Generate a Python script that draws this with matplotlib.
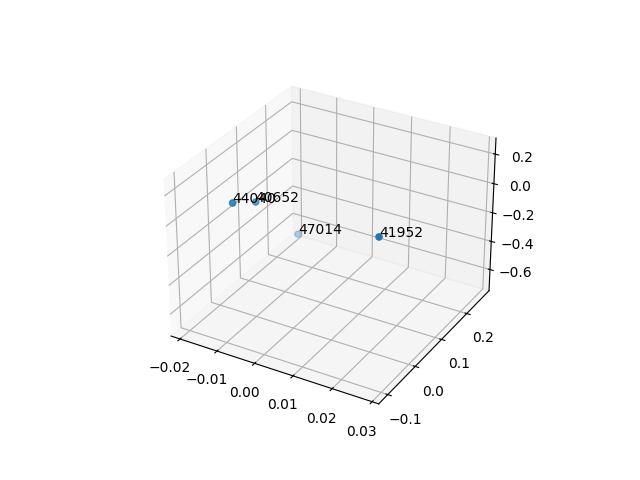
import matplotlib
matplotlib.use("Agg")
import matplotlib.pyplot as plt

labels = ["44040", "40652", "47014", "41952"]
xs = [-0.0069, -0.0095, -0.0190, 0.0282]
ys = [-0.105, 0.000, 0.265, -0.089]
zs = [0.224, 0.044, -0.685, 0.240]

fig = plt.figure(figsize=(6.4, 4.8), dpi=100)
ax = fig.add_subplot(projection="3d")
ax.scatter(xs, ys, zs)
for x, y, z, label in zip(xs, ys, zs, labels):
    ax.text(x, y, z, label)

fig.savefig("out.png")
